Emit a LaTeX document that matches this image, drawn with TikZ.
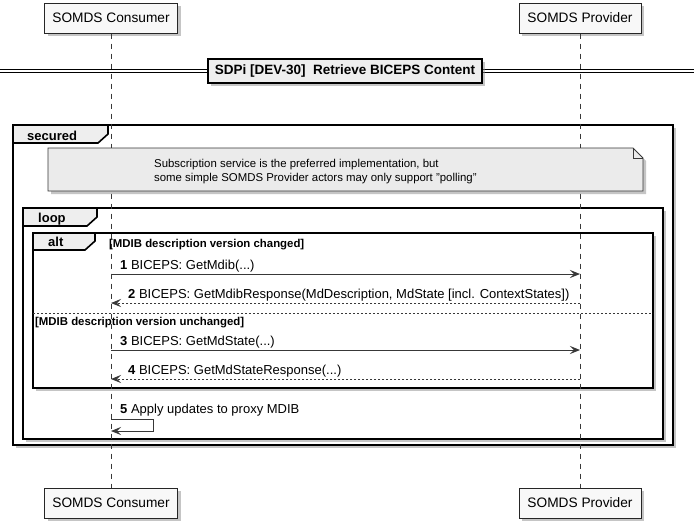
\documentclass[tikz,border=0pt]{standalone}
\usepackage{fontspec}
\setmainfont{Liberation Sans}
\usetikzlibrary{arrows.meta,shadows}
\definecolor{ln}{HTML}{383838}
\definecolor{partfill}{HTML}{F8F8F8}
\definecolor{tabfill}{HTML}{EEEEEE}
\definecolor{notefill}{HTML}{EBEBEB}
\newcommand\sz[1]{\fontsize{#1}{#1}\selectfont}
\tikzset{
 shad/.style={drop shadow={shadow xshift=3pt,shadow yshift=-3pt,fill=black!45,opacity=.5}},
 part/.style={draw=black!85, fill=partfill, line width=1pt, minimum height=30, inner sep=0pt, font=\sz{13.7}, shad},
 lifeline/.style={draw=ln, line width=0.8pt, dash pattern=on 5pt off 5pt},
 frm/.style={draw=black, line width=1.6pt, fill=white, shad},
 tabst/.style={draw=black, line width=1.6pt, fill=tabfill},
 tablbl/.style={anchor=base west, font=\bfseries\sz{13}, inner sep=0pt},
 msg/.style={draw=ln, line width=1pt, -{Stealth[length=10pt,width=8pt,inset=4pt]}},
 rmsg/.style={msg, dash pattern=on 2pt off 2pt},
 mlbl/.style={anchor=base west, font=\sz{13}, inner sep=0pt},
 guard/.style={anchor=base west, font=\bfseries\sz{11.4}, inner sep=0pt},
 notetxt/.style={anchor=base west, font=\sz{11.4}, inner sep=0pt},
}
\begin{document}
\begin{tikzpicture}[x=1pt,y=-1pt]
\useasboundingbox (0,0) rectangle (694,528);
\fill[white] (0,0) rectangle (694,528);
% frames
\draw[frm] (13,125) rectangle (673,445);
\draw[frm] (23,208) rectangle (663,439);
\draw[frm] (33,233) rectangle (653,388);
\draw[tabst] (13,125) -- (108,125) -- (108,134) -- (98,143) -- (13,143) -- cycle;
\draw[tabst] (23,208) -- (97,208) -- (97,217) -- (87,226) -- (23,226) -- cycle;
\draw[tabst] (33,233) -- (95,233) -- (95,241) -- (85,250) -- (33,250) -- cycle;
\node[tablbl] (tsec) at (27,140) {secured};
\node[tablbl] (tloop) at (38,222) {loop};
\node[tablbl] (talt) at (48,246) {alt};
% participants
\node[part, minimum width=133] (ct) at (111,18) {SOMDS Consumer};
\node[part, minimum width=122] (pt) at (580,18) {SOMDS Provider};
\node[part, minimum width=133] (cb) at (111,503) {SOMDS Consumer};
\node[part, minimum width=122] (pb) at (580,503) {SOMDS Provider};
\draw[lifeline] (ct.south) -- (cb.north);
\draw[lifeline] (pt.south) -- (pb.north);
% divider
\draw[black, line width=0.9pt] (0,69.5) -- (694,69.5) (0,72.5) -- (694,72.5);
\node[draw=black, line width=1.5pt, fill=tabfill, minimum width=274, minimum height=24, inner sep=0pt, font=\bfseries\sz{13.5}, shad] (div) at (345,71) {SDPi [DEV-30]\ \ Retrieve BICEPS Content};
% note
\draw[draw=ln, line width=0.8pt, fill=notefill, shad] (48,148) -- (633,148) -- (643,158) -- (643,191) -- (48,191) -- cycle;
\draw[draw=ln, line width=0.8pt] (633,148) -- (633,158) -- (643,158);
\node[notetxt] (n1) at (154,167) {Subscription service is the preferred implementation, but};
\node[notetxt] (n2) at (154,181) {some simple SOMDS Provider actors may only support "polling"};
% guards
\node[guard] (g1) at (109,247) {[MDIB description version changed]};
\node[guard] (g2) at (35,325) {[MDIB description version unchanged]};
\draw[ln, line width=0.8pt, dash pattern=on 2pt off 2pt] (33,313) -- (653,313);
% messages
\coordinate (m1a) at (111,274); \coordinate (m1b) at (580,274);
\coordinate (m2a) at (580,303); \coordinate (m2b) at (111,303);
\coordinate (m3a) at (111,350); \coordinate (m3b) at (580,350);
\coordinate (m4a) at (580,379); \coordinate (m4b) at (111,379);
\coordinate (m5a) at (111,419); \coordinate (m5b) at (153,419);
\coordinate (m5c) at (153,431); \coordinate (m5d) at (111,431);
\draw[msg] (m1a) -- (m1b);
\draw[rmsg] (m2a) -- (m2b);
\draw[msg] (m3a) -- (m3b);
\draw[rmsg] (m4a) -- (m4b);
\draw[msg] (m5a) -- (m5b) -- (m5c) -- (m5d);
\node[mlbl] (l1) at (120,269) {\textbf{1} BICEPS: GetMdib(...)};
\node[mlbl] (l2) at (128,298) {\textbf{2} BICEPS: GetMdibResponse(MdDescription, MdState [incl. ContextStates])};
\node[mlbl] (l3) at (120,345) {\textbf{3} BICEPS: GetMdState(...)};
\node[mlbl] (l4) at (128,374) {\textbf{4} BICEPS: GetMdStateResponse(...)};
\node[mlbl] (l5) at (120,413) {\textbf{5} Apply updates to proxy MDIB};
\end{tikzpicture}
\end{document}
